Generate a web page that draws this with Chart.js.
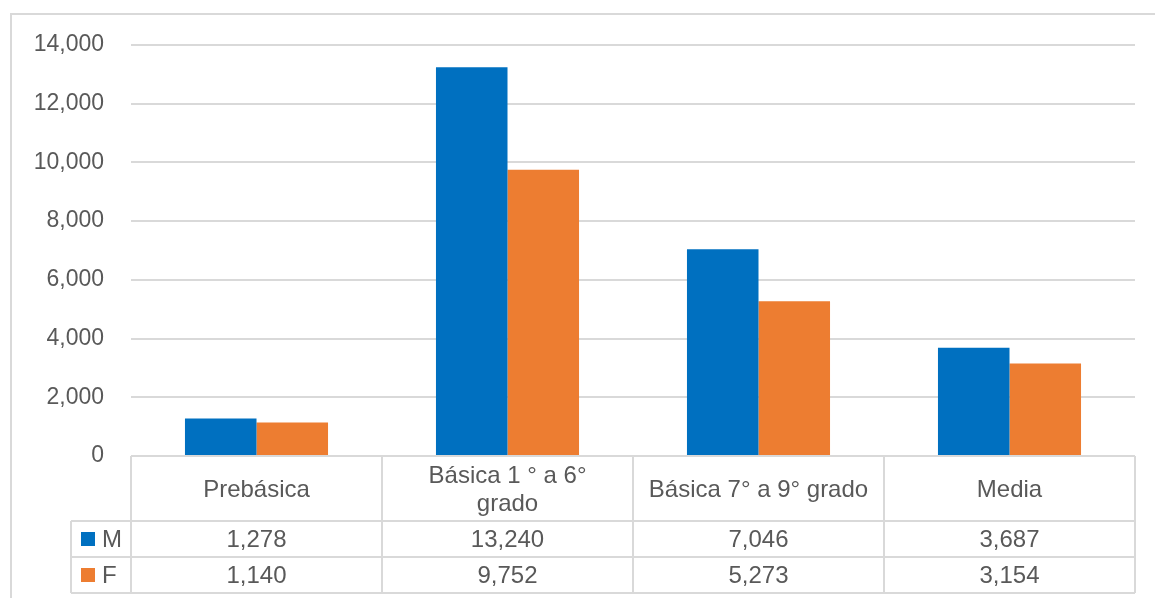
<!DOCTYPE html>
<html>
<head>
<meta charset="utf-8">
<script src="https://cdn.jsdelivr.net/npm/chart.js@4"></script>
<style>
    body { margin: 0; background: #fff; }
    canvas { display: block; }
</style>
</head>
<body>
<canvas id="barChart" width="1155" height="598"></canvas>
<script>
// ========== Data ==========

const categories = [['Prebásica'], ['Básica 1 ° a 6°', 'grado'], ['Básica 7° a 9° grado'], ['Media']];
const seriesNames = ['M', 'F'];
const valuesM = [1278, 13240, 7046, 3687];
const valuesF = [1140, 9752, 5273, 3154];
const yTicks = [0, 2000, 4000, 6000, 8000, 10000, 12000, 14000];

const colors = ['#0070C0', '#ED7D31'];
const lineColor = '#d9d9d9';
const textColor = '#595959';
const tableFont = '24px "Liberation Sans", Arial, sans-serif';

const fmt = v => v.toLocaleString('en-US');

// ========== Plugins ==========

// light frame around the whole chart (runs off the right / bottom like the source)
const framePlugin = {
    id: 'frame',
    beforeDraw(chart) {
        const ctx = chart.ctx;
        ctx.save();
        ctx.strokeStyle = lineColor;
        ctx.lineWidth = 2;
        ctx.strokeRect(11, 14, 1200, 700);
        ctx.restore();
    }
};

// Excel style data table under the plot
const dataTablePlugin = {
    id: 'dataTable',
    afterDraw(chart) {
        const ctx = chart.ctx;
        const x = chart.scales.x;
        const area = chart.chartArea;
        const top = area.bottom;
        const rowM = 521, rowF = 557, bottom = 593;
        const legendLeft = 71;
        const colW = (area.right - area.left) / categories.length;

        ctx.save();
        ctx.strokeStyle = lineColor;
        ctx.lineWidth = 2;

        // horizontal lines
        ctx.beginPath();
        ctx.moveTo(area.left, top); ctx.lineTo(area.right, top);
        [rowM, rowF, bottom].forEach(y => { ctx.moveTo(legendLeft, y); ctx.lineTo(area.right, y); });
        // vertical lines
        for (let i = 0; i <= categories.length; i++) {
            const vx = area.left + colW * i;
            ctx.moveTo(vx, top); ctx.lineTo(vx, bottom);
        }
        ctx.moveTo(legendLeft, rowM); ctx.lineTo(legendLeft, bottom);
        ctx.stroke();

        ctx.fillStyle = textColor;
        ctx.font = tableFont;
        ctx.textAlign = 'center';
        ctx.textBaseline = 'middle';

        // header labels
        categories.forEach((lines, i) => {
            const cx = x.getPixelForValue(i);
            const mid = (top + rowM) / 2 + 2;
            const lh = 28;
            lines.forEach((t, j) => {
                ctx.fillText(t, cx, mid + (j - (lines.length - 1) / 2) * lh);
            });
        });

        // value rows
        const rows = [[valuesM, rowM, rowF], [valuesF, rowF, bottom]];
        rows.forEach(([vals, y0, y1], r) => {
            const cy = (y0 + y1) / 2;
            ctx.textAlign = 'center';
            ctx.fillStyle = textColor;
            vals.forEach((v, i) => ctx.fillText(fmt(v), x.getPixelForValue(i), cy + 1));
            // legend key
            ctx.fillStyle = colors[r];
            ctx.fillRect(81, cy - 7, 14, 14);
            ctx.fillStyle = textColor;
            ctx.textAlign = 'left';
            ctx.fillText(seriesNames[r], 102, cy + 1);
        });
        ctx.restore();
    }
};

// ========== Chart ==========

const ctx = document.getElementById('barChart').getContext('2d');

new Chart(ctx, {
    type: 'bar',
    data: {
        labels: categories.map(c => c.join(' ')),
        datasets: [
            { label: seriesNames[0], data: valuesM, backgroundColor: colors[0] },
            { label: seriesNames[1], data: valuesF, backgroundColor: colors[1] }
        ]
    },
    options: {
        responsive: false,
        animation: false,
        layout: { padding: { left: 11, top: 45, right: 20, bottom: 142 } },
        datasets: { bar: { categoryPercentage: 0.57, barPercentage: 1 } },
        scales: {
            x: { display: false },
            y: {
                min: 0,
                max: 14000,
                afterBuildTicks: axis => { axis.ticks = yTicks.map(v => ({ value: v })); },
                afterFit: axis => { axis.width = 120; },
                border: { display: false },
                grid: { color: lineColor, lineWidth: 2, drawTicks: false },
                ticks: {
                    color: textColor,
                    padding: 27,
                    font: { family: '"Liberation Sans", Arial, sans-serif', size: 23 },
                    callback: v => fmt(v)
                }
            }
        },
        plugins: {
            legend: { display: false },
            tooltip: { enabled: false }
        }
    },
    plugins: [framePlugin, dataTablePlugin]
});
</script>
</body>
</html>
